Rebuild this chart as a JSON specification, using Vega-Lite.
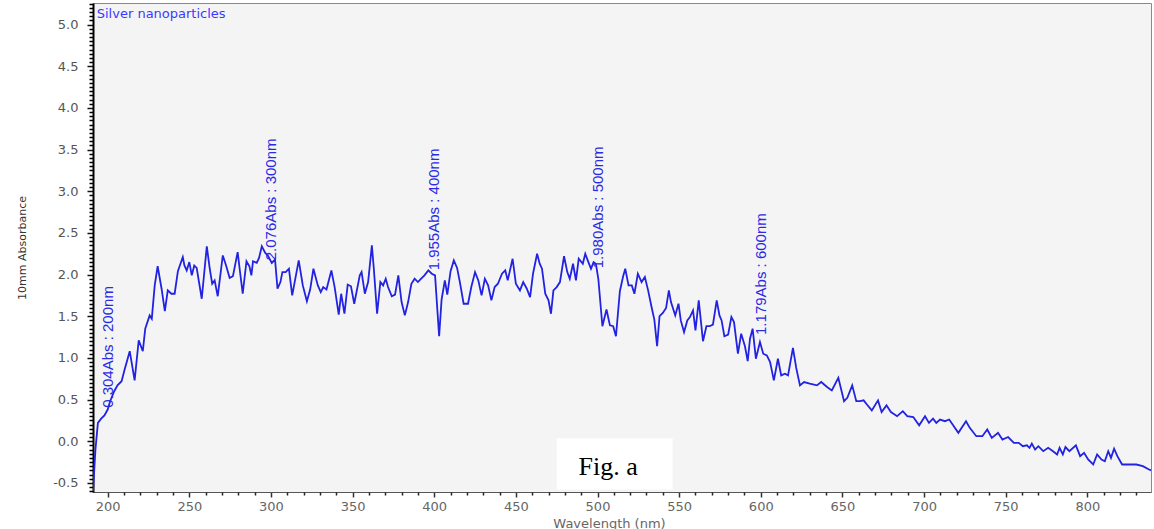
{
  "$schema": "https://vega.github.io/schema/vega-lite/v6.json",
  "width": 1058,
  "height": 489,
  "autosize": {"type": "none"},
  "padding": {"left": 93, "top": 3, "right": 3, "bottom": 37},
  "background": "white",
  "config": {
    "view": {"fill": "#f4f4f4", "stroke": "#8a8a8a", "strokeWidth": 1},
    "axis": {"grid": false, "labelFont": "DejaVu Sans", "titleFont": "DejaVu Sans", "titleFontWeight": "normal", "zindex": 1}
  },
  "datasets": {
    "spectrum": [
      {"nm":191,"abs":-0.6},{"nm":192.5,"abs":-0.1},{"nm":194,"abs":0.22},{"nm":196,"abs":0.27},{"nm":198,"abs":0.31},
      {"nm":200,"abs":0.38},{"nm":201.5,"abs":0.48},{"nm":204,"abs":0.6},{"nm":206,"abs":0.67},{"nm":208.5,"abs":0.72},
      {"nm":210.5,"abs":0.87},{"nm":213.5,"abs":1.08},{"nm":216.5,"abs":0.73},{"nm":219,"abs":1.21},{"nm":221.5,"abs":1.08},
      {"nm":223,"abs":1.35},{"nm":225.7,"abs":1.51},{"nm":227,"abs":1.47},{"nm":228.8,"abs":1.87},{"nm":230.6,"abs":2.1},
      {"nm":233,"abs":1.83},{"nm":235,"abs":1.56},{"nm":236.8,"abs":1.81},{"nm":239,"abs":1.77},{"nm":241,"abs":1.77},
      {"nm":243,"abs":2.04},{"nm":246,"abs":2.21},{"nm":247,"abs":2.11},{"nm":248.4,"abs":2.05},{"nm":250,"abs":2.15},
      {"nm":251.5,"abs":1.99},{"nm":253,"abs":2.11},{"nm":254.5,"abs":2.08},{"nm":257.6,"abs":1.71},{"nm":260.7,"abs":2.34},
      {"nm":262.5,"abs":2.07},{"nm":264,"abs":1.89},{"nm":265.5,"abs":1.93},{"nm":267.4,"abs":1.74},{"nm":270.5,"abs":2.23},
      {"nm":272.5,"abs":2.11},{"nm":274.7,"abs":1.96},{"nm":276.7,"abs":1.98},{"nm":279.6,"abs":2.27},{"nm":281,"abs":2.04},
      {"nm":282.7,"abs":1.77},{"nm":285,"abs":2.16},{"nm":286.8,"abs":2.1},{"nm":288,"abs":1.99},{"nm":289,"abs":2.16},
      {"nm":291.3,"abs":2.14},{"nm":292.7,"abs":2.2},{"nm":294.4,"abs":2.34},{"nm":296.5,"abs":2.26},{"nm":298,"abs":2.23},
      {"nm":300.5,"abs":2.14},{"nm":302.5,"abs":2.18},{"nm":304,"abs":1.83},{"nm":305.8,"abs":1.91},{"nm":307,"abs":2.03},
      {"nm":309,"abs":2.03},{"nm":311,"abs":2.07},{"nm":313,"abs":1.75},{"nm":317,"abs":2.17},{"nm":319.5,"abs":1.87},
      {"nm":322,"abs":1.68},{"nm":324,"abs":1.82},{"nm":326,"abs":2.07},{"nm":328.7,"abs":1.87},{"nm":330.5,"abs":1.79},
      {"nm":332,"abs":1.85},{"nm":334,"abs":1.82},{"nm":337,"abs":2.05},{"nm":339,"abs":1.85},{"nm":341.5,"abs":1.52},
      {"nm":343,"abs":1.77},{"nm":345,"abs":1.53},{"nm":347,"abs":1.88},{"nm":349,"abs":1.86},{"nm":351,"abs":1.65},
      {"nm":354.4,"abs":1.99},{"nm":355.5,"abs":2.03},{"nm":357.5,"abs":1.77},{"nm":359.5,"abs":1.91},{"nm":361.8,"abs":2.35},
      {"nm":363,"abs":2.07},{"nm":365,"abs":1.53},{"nm":367,"abs":1.91},{"nm":368.7,"abs":1.87},{"nm":370.3,"abs":1.95},
      {"nm":371.7,"abs":1.85},{"nm":374,"abs":1.74},{"nm":376,"abs":1.76},{"nm":378,"abs":1.99},{"nm":380,"abs":1.67},
      {"nm":382,"abs":1.51},{"nm":384,"abs":1.67},{"nm":386,"abs":1.89},{"nm":388,"abs":1.95},{"nm":390,"abs":1.91},
      {"nm":392,"abs":1.95},{"nm":394,"abs":1.99},{"nm":396.4,"abs":2.05},{"nm":398.5,"abs":2.01},{"nm":400.5,"abs":1.99},
      {"nm":403,"abs":1.26},{"nm":404.5,"abs":1.7},{"nm":406.5,"abs":1.93},{"nm":408,"abs":1.76},{"nm":410,"abs":2.04},
      {"nm":412,"abs":2.17},{"nm":414,"abs":2.08},{"nm":415.7,"abs":1.91},{"nm":418,"abs":1.65},{"nm":420.7,"abs":1.65},
      {"nm":422.7,"abs":1.85},{"nm":425,"abs":2.03},{"nm":427,"abs":1.93},{"nm":429,"abs":1.75},{"nm":431,"abs":1.95},
      {"nm":433,"abs":1.87},{"nm":435,"abs":1.69},{"nm":437,"abs":1.85},{"nm":439,"abs":1.89},{"nm":441.5,"abs":2.01},
      {"nm":443.5,"abs":2.05},{"nm":445,"abs":1.93},{"nm":448,"abs":2.19},{"nm":450,"abs":1.89},{"nm":452.5,"abs":1.81},
      {"nm":454.5,"abs":1.91},{"nm":456.7,"abs":1.83},{"nm":458.7,"abs":1.73},{"nm":460.5,"abs":2.01},{"nm":463,"abs":2.25},
      {"nm":464.6,"abs":2.13},{"nm":466,"abs":2.07},{"nm":468,"abs":1.77},{"nm":470,"abs":1.69},{"nm":471.5,"abs":1.53},
      {"nm":473,"abs":1.81},{"nm":475,"abs":1.85},{"nm":477,"abs":1.91},{"nm":479.5,"abs":2.22},{"nm":481.5,"abs":2.03},
      {"nm":483,"abs":1.95},{"nm":485,"abs":2.13},{"nm":486.8,"abs":1.93},{"nm":488.5,"abs":2.19},{"nm":491,"abs":2.13},
      {"nm":492.5,"abs":2.25},{"nm":494,"abs":2.17},{"nm":496,"abs":2.07},{"nm":497.6,"abs":2.15},{"nm":499,"abs":2.13},
      {"nm":500.5,"abs":1.95},{"nm":503,"abs":1.38},{"nm":505.5,"abs":1.58},{"nm":507.6,"abs":1.39},{"nm":509.6,"abs":1.38},
      {"nm":511.3,"abs":1.26},{"nm":513.7,"abs":1.8},{"nm":515.7,"abs":1.98},{"nm":517,"abs":2.07},{"nm":519,"abs":1.87},
      {"nm":521,"abs":1.87},{"nm":522.6,"abs":1.77},{"nm":524.7,"abs":2.01},{"nm":527,"abs":1.91},{"nm":529,"abs":1.97},
      {"nm":531,"abs":1.81},{"nm":533,"abs":1.62},{"nm":534.8,"abs":1.46},{"nm":536.5,"abs":1.14},{"nm":538,"abs":1.5},
      {"nm":540,"abs":1.54},{"nm":542,"abs":1.6},{"nm":543.7,"abs":1.81},{"nm":545,"abs":1.67},{"nm":547.6,"abs":1.51},
      {"nm":549.6,"abs":1.65},{"nm":551,"abs":1.45},{"nm":553,"abs":1.31},{"nm":555,"abs":1.45},{"nm":556.6,"abs":1.49},
      {"nm":558.5,"abs":1.57},{"nm":560,"abs":1.33},{"nm":562,"abs":1.69},{"nm":564.6,"abs":1.2},{"nm":566.7,"abs":1.38},
      {"nm":568.7,"abs":1.38},{"nm":570.7,"abs":1.4},{"nm":573,"abs":1.69},{"nm":574.7,"abs":1.51},{"nm":576,"abs":1.45},
      {"nm":577.7,"abs":1.26},{"nm":580,"abs":1.28},{"nm":582,"abs":1.49},{"nm":583.6,"abs":1.43},{"nm":586,"abs":1.05},
      {"nm":588,"abs":1.29},{"nm":590.3,"abs":1.14},{"nm":592,"abs":0.96},{"nm":593.4,"abs":1.23},{"nm":595,"abs":1.35},
      {"nm":597,"abs":0.99},{"nm":599.5,"abs":1.19},{"nm":601.5,"abs":1.05},{"nm":603.7,"abs":1.03},{"nm":605.7,"abs":0.95},
      {"nm":608,"abs":0.73},{"nm":610.5,"abs":0.99},{"nm":612.5,"abs":0.79},{"nm":614.8,"abs":0.81},{"nm":616.7,"abs":0.79},
      {"nm":619.7,"abs":1.12},{"nm":621.7,"abs":0.88},{"nm":624,"abs":0.67},{"nm":626.5,"abs":0.71},{"nm":630,"abs":0.69},
      {"nm":634.4,"abs":0.67},{"nm":637,"abs":0.71},{"nm":640.6,"abs":0.65},{"nm":643.5,"abs":0.61},{"nm":647.5,"abs":0.76},
      {"nm":651,"abs":0.48},{"nm":653,"abs":0.52},{"nm":656,"abs":0.67},{"nm":658.5,"abs":0.48},{"nm":660.8,"abs":0.48},
      {"nm":663,"abs":0.49},{"nm":665,"abs":0.44},{"nm":668,"abs":0.37},{"nm":671.8,"abs":0.49},{"nm":674,"abs":0.35},
      {"nm":677,"abs":0.43},{"nm":679.7,"abs":0.35},{"nm":683.5,"abs":0.3},{"nm":687,"abs":0.36},{"nm":689.7,"abs":0.3},
      {"nm":693.4,"abs":0.29},{"nm":697,"abs":0.19},{"nm":700.6,"abs":0.3},{"nm":703,"abs":0.22},{"nm":705.5,"abs":0.27},
      {"nm":707.5,"abs":0.22},{"nm":709.8,"abs":0.26},{"nm":712.8,"abs":0.24},{"nm":715.4,"abs":0.26},{"nm":721,"abs":0.1},
      {"nm":725.7,"abs":0.24},{"nm":728,"abs":0.16},{"nm":732,"abs":0.06},{"nm":735.7,"abs":0.06},{"nm":738.7,"abs":0.14},
      {"nm":741.5,"abs":0.04},{"nm":745.3,"abs":0.1},{"nm":748,"abs":0.02},{"nm":751.5,"abs":0.05},{"nm":755,"abs":-0.02},
      {"nm":758,"abs":-0.02},{"nm":760.5,"abs":-0.06},{"nm":763,"abs":-0.05},{"nm":764.6,"abs":-0.08},{"nm":766,"abs":-0.03},
      {"nm":768,"abs":-0.1},{"nm":770,"abs":-0.06},{"nm":773,"abs":-0.12},{"nm":776,"abs":-0.08},{"nm":779,"abs":-0.12},
      {"nm":781.5,"abs":-0.16},{"nm":783,"abs":-0.08},{"nm":785,"abs":-0.16},{"nm":786.6,"abs":-0.07},{"nm":789,"abs":-0.12},
      {"nm":793,"abs":-0.05},{"nm":795.6,"abs":-0.18},{"nm":798,"abs":-0.14},{"nm":800.5,"abs":-0.22},{"nm":803.6,"abs":-0.28},
      {"nm":806,"abs":-0.16},{"nm":808.7,"abs":-0.22},{"nm":810.7,"abs":-0.24},{"nm":812.8,"abs":-0.12},{"nm":814.5,"abs":-0.2},
      {"nm":816.4,"abs":-0.09},{"nm":818.4,"abs":-0.18},{"nm":821.3,"abs":-0.28},{"nm":826,"abs":-0.28},{"nm":830,"abs":-0.28},
      {"nm":834,"abs":-0.3},{"nm":837.8,"abs":-0.34},{"nm":839,"abs":-0.35}
    ],
    "peaks": [
      {"nm":200,"abs":0.304,"label":"0.304Abs : 200nm"},
      {"nm":300,"abs":2.076,"label":"2.076Abs : 300nm"},
      {"nm":400,"abs":1.955,"label":"1.955Abs : 400nm"},
      {"nm":500,"abs":1.98,"label":"1.980Abs : 500nm"},
      {"nm":600,"abs":1.179,"label":"1.179Abs : 600nm"}
    ],
    "box": [{"x1":475,"x2":546,"y1":0.036,"y2":-0.58}],
    "figlabel": [{"nm":506.5,"abs":-0.4,"label":"Fig. a"}],
    "sample": [{"nm":193.3,"abs":5.13,"label":"Silver nanoparticles"}]
  },
  "resolve": {"axis": {"x": "independent", "y": "independent"}},
  "layer": [
    {
      "data": {"name": "spectrum"},
      "mark": {"type": "line", "color": "#2222e2", "strokeWidth": 1.8, "clip": true},
      "encoding": {
        "x": {"field": "nm", "type": "quantitative",
          "scale": {"domain": [191, 839], "nice": false, "zero": false},
          "axis": {"orient": "bottom", "values": [200,250,300,350,400,450,500,550,600,650,700,750,800],
            "title": "Wavelength (nm)", "labelFontSize": 13, "labelColor": "#666", "tickColor": "#333",
            "tickSize": 5, "tickWidth": 1.5, "labelPadding": 3, "domainColor": "#555", "titleFontSize": 13, "titleColor": "#666",
            "titlePadding": 4, "titleX": 516}},
        "y": {"field": "abs", "type": "quantitative",
          "scale": {"domain": [-0.61, 5.26], "nice": false, "zero": false},
          "axis": {"orient": "left", "values": [-0.5,0,0.5,1,1.5,2,2.5,3,3.5,4,4.5,5],
            "labelExpr": "replace(format(datum.value, '.1f'), '\u2212', '-')",
            "title": "10mm Absorbance", "labelFontSize": 13, "labelColor": "#555", "tickColor": "#111",
            "tickSize": 6, "tickWidth": 1.5, "labelPadding": 9, "domainColor": "#000", "domainWidth": 2,
            "titleFontSize": 11, "titleColor": "#333", "titlePadding": 25}}
      }
    },
    {
      "data": {"name": "spectrum"},
      "mark": {"type": "point", "opacity": 0},
      "encoding": {
        "x": {"field": "nm", "type": "quantitative",
          "scale": {"domain": [191, 839], "nice": false, "zero": false},
          "axis": {"orient": "bottom", "values": [210,220,230,240,260,270,280,290,310,320,330,340,360,370,380,390,410,420,430,440,460,470,480,490,510,520,530,540,560,570,580,590,610,620,630,640,660,670,680,690,710,720,730,740,760,770,780,790,810,820,830],
            "labels": false, "domain": false, "title": null, "tickSize": 3, "tickColor": "#222", "tickWidth": 1.5}},
        "y": {"field": "abs", "type": "quantitative",
          "scale": {"domain": [-0.61, 5.26], "nice": false, "zero": false},
          "axis": {"orient": "left", "values": [-0.6,-0.55,-0.45,-0.4,-0.35,-0.3,-0.25,-0.2,-0.15,-0.1,-0.05,0.05,0.1,0.15,0.2,0.25,0.3,0.35,0.4,0.45,0.55,0.6,0.65,0.7,0.75,0.8,0.85,0.9,0.95,1.05,1.1,1.15,1.2,1.25,1.3,1.35,1.4,1.45,1.55,1.6,1.65,1.7,1.75,1.8,1.85,1.9,1.95,2.05,2.1,2.15,2.2,2.25,2.3,2.35,2.4,2.45,2.55,2.6,2.65,2.7,2.75,2.8,2.85,2.9,2.95,3.05,3.1,3.15,3.2,3.25,3.3,3.35,3.4,3.45,3.55,3.6,3.65,3.7,3.75,3.8,3.85,3.9,3.95,4.05,4.1,4.15,4.2,4.25,4.3,4.35,4.4,4.45,4.55,4.6,4.65,4.7,4.75,4.8,4.85,4.9,4.95,5.05,5.1,5.15,5.2,5.25],
            "labels": false, "domain": false, "title": null, "tickSize": 4, "tickColor": "#000", "tickWidth": 1.5}}
      }
    },
    {
      "data": {"name": "box"},
      "mark": {"type": "rect", "color": "white"},
      "encoding": {
        "x": {"field": "x1", "type": "quantitative", "axis": null},
        "x2": {"field": "x2"},
        "y": {"field": "y1", "type": "quantitative", "axis": null},
        "y2": {"field": "y2"}
      }
    },
    {
      "data": {"name": "peaks"},
      "mark": {"type": "text", "angle": 270, "align": "left", "baseline": "middle", "dx": 8,
        "font": "Liberation Sans", "fontSize": 15, "color": "#2a2ae6"},
      "encoding": {
        "x": {"field": "nm", "type": "quantitative", "axis": null},
        "y": {"field": "abs", "type": "quantitative", "axis": null},
        "text": {"field": "label"}
      }
    },
    {
      "data": {"name": "sample"},
      "mark": {"type": "text", "align": "left", "baseline": "middle",
        "font": "DejaVu Sans", "fontSize": 13, "color": "#3a3aff"},
      "encoding": {
        "x": {"field": "nm", "type": "quantitative", "axis": null},
        "y": {"field": "abs", "type": "quantitative", "axis": null},
        "text": {"field": "label"}
      }
    },
    {
      "data": {"name": "figlabel"},
      "mark": {"type": "text", "align": "center", "baseline": "alphabetic",
        "font": "Liberation Serif", "fontSize": 26, "color": "#000"},
      "encoding": {
        "x": {"field": "nm", "type": "quantitative", "axis": null},
        "y": {"field": "abs", "type": "quantitative", "axis": null},
        "text": {"field": "label"}
      }
    }
  ]
}
